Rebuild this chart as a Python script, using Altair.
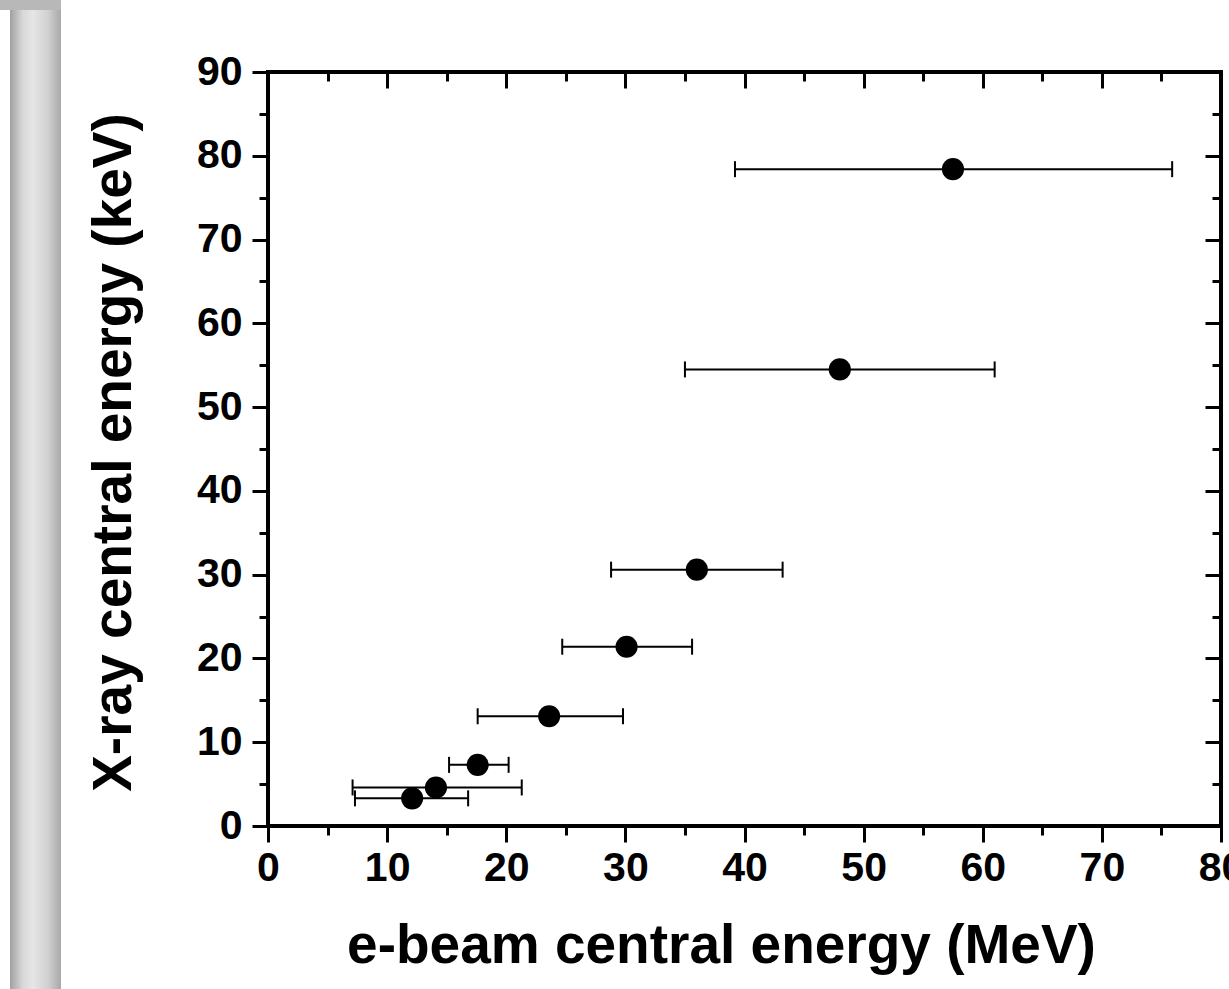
import altair as alt
import pandas as pd

# Data
e_beam = [12.1, 14.1, 17.6, 23.6, 30.1, 36.0, 48.0, 57.5]
xray = [3.3, 4.6, 7.3, 13.1, 21.4, 30.6, 54.5, 78.4]
err_lo = [7.3, 7.1, 15.2, 17.6, 24.7, 28.8, 35.0, 39.2]
err_hi = [16.8, 21.3, 20.2, 29.8, 35.6, 43.2, 61.0, 75.9]

x_major = [0, 10, 20, 30, 40, 50, 60, 70, 80]
x_minor = [5, 15, 25, 35, 45, 55, 65, 75]
y_major = [0, 10, 20, 30, 40, 50, 60, 70, 80, 90]
y_minor = [5, 15, 25, 35, 45, 55, 65, 75, 85]

df = pd.DataFrame({"e": e_beam, "xr": xray, "lo": err_lo, "hi": err_hi})

FONT = "Liberation Sans"
xs = alt.Scale(domain=[0, 80], nice=False, zero=False)
ys = alt.Scale(domain=[0, 90], nice=False, zero=False)

base = alt.Chart(df)

# decorative slide edge (gray gradient bar)
grad = alt.LinearGradient(
    gradient="linear", x1=0, x2=1, y1=0, y2=0,
    stops=[
        alt.GradientStop(color="#a0a0a0", offset=0),
        alt.GradientStop(color="#d8d8d8", offset=0.25),
        alt.GradientStop(color="#e6e6e6", offset=0.45),
        alt.GradientStop(color="#d0d0d0", offset=0.75),
        alt.GradientStop(color="#a8a8a8", offset=1),
    ],
)
bar_df = pd.DataFrame({"k": [0]})
bar = alt.Chart(bar_df).mark_rect(color=grad).encode(
    x=alt.value(-258), x2=alt.value(-207), y=alt.value(-72), y2=alt.value(917)
)
bar_top = alt.Chart(bar_df).mark_rect(color="#b8b8b8").encode(
    x=alt.value(-268), x2=alt.value(-207), y=alt.value(-72), y2=alt.value(-62)
)

def ax_x(**kw):
    return alt.X("e:Q", scale=xs, **kw)

def ax_y(**kw):
    return alt.Y("xr:Q", scale=ys, **kw)

common = dict(domain=False, grid=False, tickColor="black", tickWidth=3,
              labelFont=FONT, labelFontWeight="bold", labelFontSize=41,
              labelColor="black", labelFlush=False, labelOverlap=False,
              titleFont=FONT, titleFontWeight="bold",
              titleFontSize=55, titleColor="black")

rules = base.mark_rule(color="black", strokeWidth=2).encode(
    x=alt.X("lo:Q", scale=xs, axis=None), x2="hi:Q",
    y=alt.Y("xr:Q", scale=ys, axis=None),
)
cap_lo = base.mark_tick(orient="vertical", size=16, thickness=2, color="black", opacity=1).encode(
    x=alt.X("lo:Q", scale=xs, axis=None), y=alt.Y("xr:Q", scale=ys, axis=None)
)
cap_hi = base.mark_tick(orient="vertical", size=16, thickness=2, color="black", opacity=1).encode(
    x=alt.X("hi:Q", scale=xs, axis=None), y=alt.Y("xr:Q", scale=ys, axis=None)
)

points = base.mark_circle(size=490, color="black", opacity=1).encode(
    x=ax_x(title="e-beam central energy (MeV)", axis=alt.Axis(
        orient="bottom", values=x_major, tickSize=16, labelPadding=6,
        titleX=453, titleY=136, titleBaseline="alphabetic", titleAlign="center",
        titleAnchor="start", **common)),
    y=ax_y(title="X-ray central energy (keV)", axis=alt.Axis(
        orient="left", values=y_major, tickSize=16, labelPadding=10,
        titleX=-138, titleY=380, titleAngle=270, titleBaseline="alphabetic",
        titleAlign="center", titleAnchor="start", **common)),
)

def extra_x(orient, values, size, offset=0):
    return base.mark_point(opacity=0).encode(
        x=ax_x(axis=alt.Axis(orient=orient, values=values, tickSize=size,
                             offset=offset, labels=False, title=None,
                             domain=False, grid=False, tickColor="black", tickWidth=3)),
        y=ax_y(axis=None),
    )

def extra_y(orient, values, size, offset=0):
    return base.mark_point(opacity=0).encode(
        x=ax_x(axis=None),
        y=ax_y(axis=alt.Axis(orient=orient, values=values, tickSize=size,
                             offset=offset, labels=False, title=None,
                             domain=False, grid=False, tickColor="black", tickWidth=3)),
    )

layers = [
    bar, bar_top, rules, cap_lo, cap_hi, points,
    extra_x("bottom", x_minor, 9),
    extra_x("top", x_major, 16, -16),
    extra_x("top", x_minor, 9, -9),
    extra_y("left", y_minor, 9),
    extra_y("right", y_major, 16, -16),
    extra_y("right", y_minor, 9, -9),
]

chart = alt.layer(*layers).properties(
    width=953, height=754,
    autosize=alt.AutoSizeParams(type="none"),
    padding={"left": 268, "top": 72, "right": 8, "bottom": 163},
    background="white",
).configure_view(stroke="black", strokeWidth=4)

chart.save("out.html", embed_options={"renderer": "svg", "actions": False})
